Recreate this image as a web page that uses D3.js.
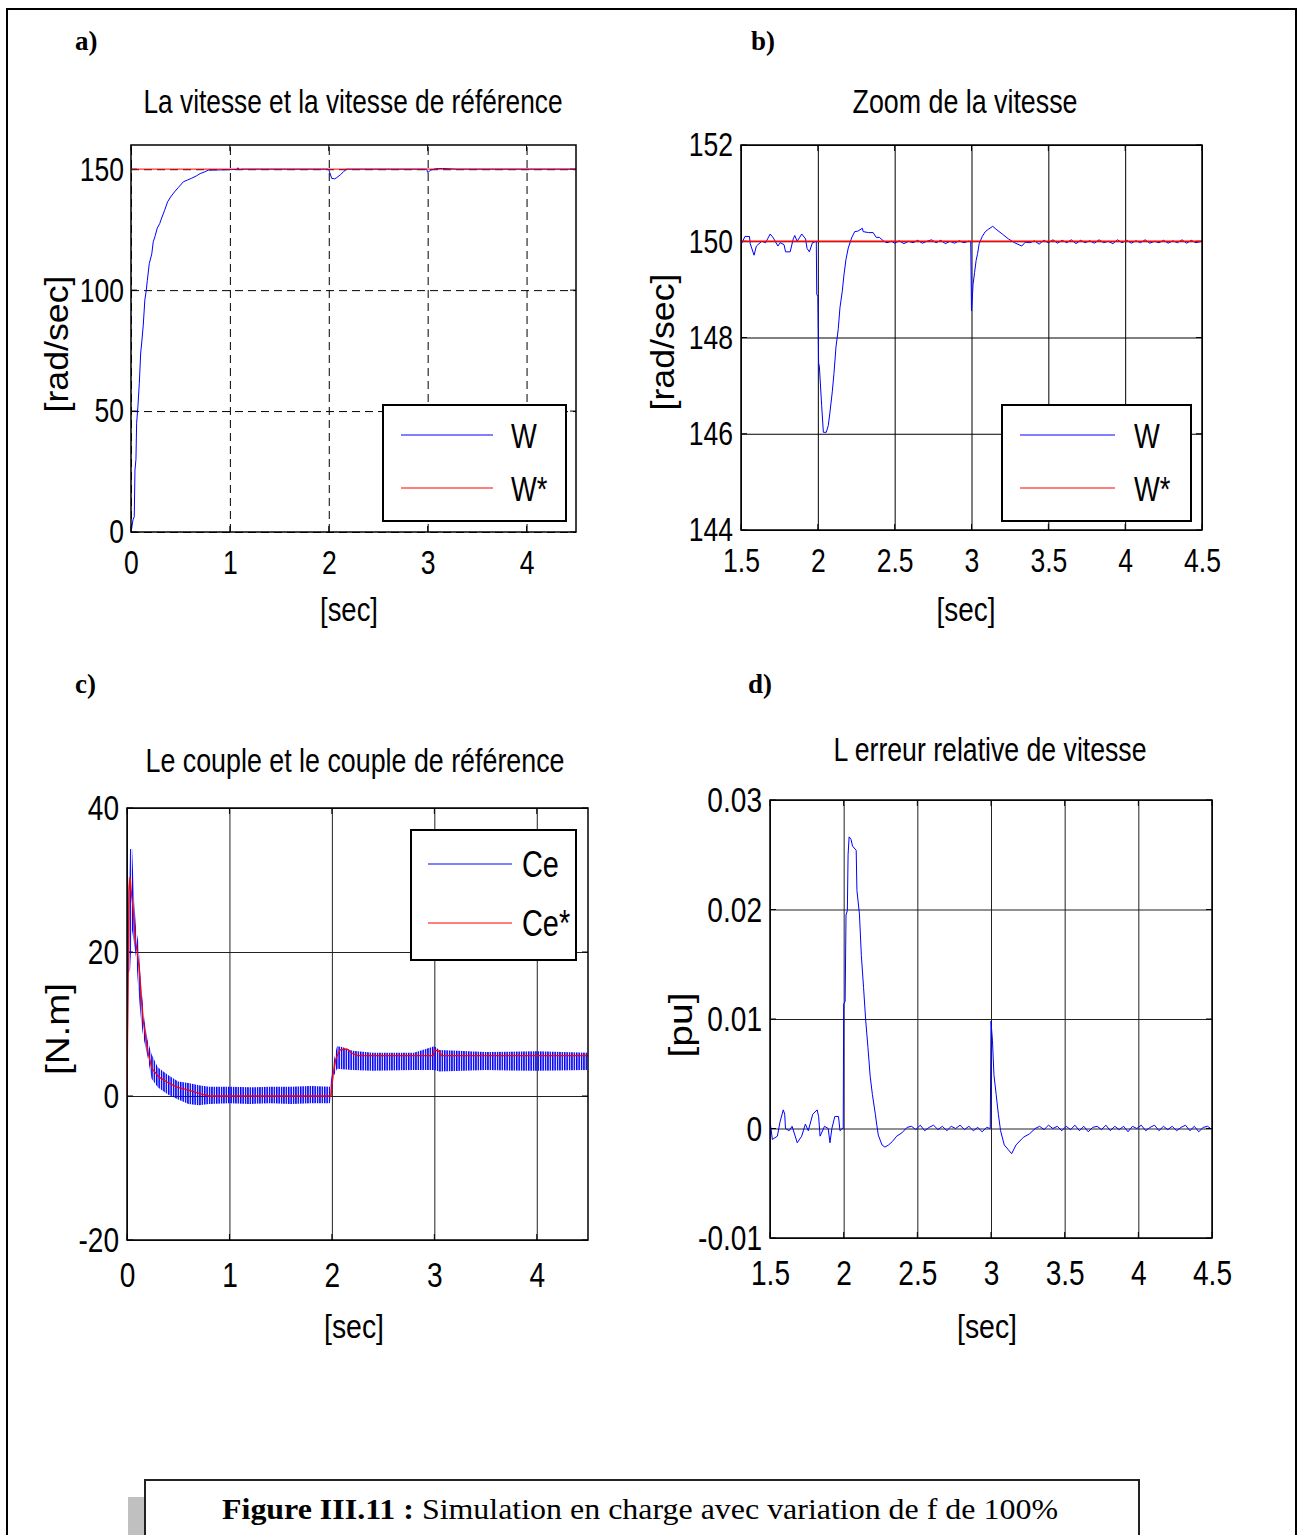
<!DOCTYPE html>
<html><head><meta charset="utf-8">
<script src="https://cdn.jsdelivr.net/npm/d3@7"></script>
<style>
body{margin:0;background:#fff;}
svg{display:block;}
</style></head><body>
<svg id="fig" width="1297" height="1535"></svg>
<script>
// ---------- DATA ----------
// Panel a: speed W (rad/s) vs time (s)
const tA = [0,0.007,0.02,0.033,0.04,0.05,0.057,0.07,0.084,0.098,0.11,0.124,0.14,0.155,0.165,0.185,0.21,0.225,0.245,0.265,0.29,0.31,0.34,0.37,0.4,0.44,0.48,0.53,0.57,0.61,0.66,0.70,0.74,0.78,0.9,1.07,1.08,1.1,1.12,1.99,2.0,2.03,2.06,2.08,2.12,2.15,2.18,2.99,3.0,3.03,3.08,3.15,3.3,4.5];
const wA = [0,1.6,5,6.3,25.6,30,45,52,61.5,74,79,85.5,96,100,104,111,115,120,122.5,125.6,127.5,129.8,133,136.5,138.5,140.6,142.5,144.8,145.5,146.2,147.2,148.2,148.8,149.6,149.7,149.9,150.6,149.8,150,150,149.8,146.2,146.0,146.5,147.8,149,150,150,148.6,149.6,150.2,150.3,150,150];
const tArefRange = [0, 4.5];
const wRefA = [150, 150];

// Panel b: zoom of speed
const tB = [1.5,1.505,1.526,1.555,1.56,1.585,1.6,1.635,1.66,1.69,1.71,1.74,1.755,1.78,1.79,1.82,1.84,1.85,1.865,1.88,1.895,1.92,1.93,1.945,1.965,1.99,1.993,2.0,2.005,2.01,2.025,2.036,2.055,2.068,2.079,2.094,2.105,2.118,2.133,2.144,2.159,2.17,2.183,2.198,2.22,2.24,2.26,2.29,2.295,2.33,2.36,2.38,2.40,2.43,
  2.45,2.48,2.5,2.53,2.56,2.59,2.62,2.65,2.68,2.71,2.74,2.77,2.8,2.83,2.86,2.89,2.92,2.95,2.98,2.995,
  3.0,3.005,3.01,3.02,3.03,3.04,3.05,3.07,3.09,3.11,3.138,3.16,3.2,3.24,3.28,3.327,3.35,
  3.38,3.41,3.44,3.47,3.5,3.53,3.56,3.59,3.62,3.65,3.68,3.71,3.74,3.77,3.8,3.83,3.86,3.89,3.92,3.95,3.98,4.01,4.04,4.07,4.1,4.13,4.16,4.19,4.22,4.25,4.28,4.31,4.34,4.37,4.4,4.43,4.46,4.5];
const wB = [149.96,149.96,150.1,150.1,149.95,149.71,149.9,150.0,149.97,150.15,150.07,149.9,149.97,149.93,149.78,149.78,150.05,150.12,150.0,150.07,150.15,150.05,149.85,149.78,149.97,150.0,148.9,148.85,147.47,147.4,146.58,146.03,146.03,146.17,146.45,146.87,147.25,147.8,148.18,148.62,148.96,149.3,149.62,149.86,150.07,150.2,150.21,150.27,150.2,150.18,150.18,150.08,150.08,150.0,
  149.97,150.0,149.96,150.01,149.95,150.0,149.97,150.02,149.96,150.0,150.03,149.97,150.02,149.95,150.0,149.96,150.01,149.97,150.0,150.0,
  148.55,148.8,149.1,149.35,149.6,149.75,149.95,150.1,150.2,150.25,150.31,150.25,150.15,150.05,149.97,149.9,149.98,
  149.97,150.01,149.94,150.02,149.97,150.03,149.96,150.02,149.97,150.03,149.95,150.02,149.97,150.01,149.96,150.03,149.97,150.0,149.95,150.03,149.97,150.02,149.96,150.01,149.97,150.03,149.96,150.0,149.97,150.02,149.96,150.01,149.97,150.03,149.96,150.02,149.97,150.0];
const wRefB = [150, 150];

// Panel c: electromagnetic torque Ce (band: upper / lower envelope) and reference Ce*
const tC  = [0,0.005,0.015,0.03,0.05,0.07,0.09,0.11,0.13,0.15,0.17,0.2,0.24,0.3,0.4,0.5,0.6,0.7,0.8,1.0,1.2,1.4,1.6,1.8,1.98,2.0,2.02,2.05,2.1,2.2,2.4,2.8,3.0,3.05,3.5,4.0,4.5];
const ceHi = [1.5,18,29,34.3,34.3,27,23,21.5,17,13.5,10.5,7.8,5.8,4.0,2.9,2.0,1.8,1.5,1.3,1.3,1.2,1.3,1.3,1.4,1.3,3.0,5.0,6.9,6.8,6.3,6.0,6.0,6.9,6.4,6.1,6.2,6.0];
const ceLo = [0.5,1.0,17,17.5,23,21,19,15,11.5,9,7.5,5.5,2.4,1.2,0.2,-0.5,-1.1,-1.3,-1.1,-1.0,-1.1,-1.0,-1.1,-1.0,-1.0,0.5,2.8,3.8,3.7,3.6,3.5,3.6,3.6,3.4,3.6,3.5,3.6];
const tCr  = [0,0.01,0.02,0.03,0.04,0.06,0.08,0.1,0.12,0.14,0.16,0.19,0.21,0.245,0.31,0.39,0.48,0.6,0.72,0.8,1.99,2.01,2.04,2.08,2.15,2.2,2.25,2.99,3.0,3.05,3.07,4.5];
const ceRef = [0,15.5,28.5,30.4,28.6,26,21.9,19.9,17.6,13.6,10.3,7.5,5.7,3.8,2.65,1.95,1.26,0.8,0.3,0,0,2.9,5.2,6.4,6.5,5.9,5.6,5.6,6.4,6.2,5.6,5.6];

// Panel d: relative speed error (pu)
const tD = [1.5,1.502,1.516,1.55,1.568,1.59,1.6,1.605,1.63,1.65,1.685,1.715,1.74,1.76,1.79,1.82,1.83,1.84,1.87,1.895,1.907,1.92,1.94,1.965,1.975,1.99,1.997,2.0,2.01,2.016,2.025,2.03,2.037,2.05,2.06,2.085,2.09,2.107,2.12,2.135,2.15,2.165,2.18,2.195,2.215,2.225,2.235,2.26,2.28,2.305,2.33,2.36,2.395,2.43,
  2.46,2.49,2.52,2.55,2.58,2.61,2.64,2.67,2.7,2.73,2.76,2.79,2.82,2.85,2.88,2.91,2.94,2.97,2.995,
  3.0,3.01,3.02,3.035,3.05,3.065,3.09,3.115,3.14,3.17,3.22,3.26,3.3,
  3.33,3.36,3.39,3.42,3.45,3.48,3.51,3.54,3.57,3.6,3.63,3.66,3.69,3.72,3.75,3.78,3.81,3.84,3.87,3.9,3.93,3.96,3.99,4.02,4.05,4.08,4.11,4.14,4.17,4.2,4.23,4.26,4.29,4.32,4.35,4.38,4.41,4.44,4.47,4.49];
const eD = [0.0005,0.0005,-0.001,-0.0007,0.0006,0.0017,0.0013,0,-0.0002,0.0002,-0.0013,-0.0007,0.0004,-0.0002,0.0013,0.0017,0.0011,-0.0007,0.0002,0,-0.0013,0,0.0011,0.0011,-0.0002,0,0,0.01135,0.0116,0.0195,0.0199,0.025,0.02663,0.0264,0.0258,0.0254,0.02174,0.0196,0.0158,0.01287,0.0098,0.00737,0.00477,0.0031,0.0013,0.0003,-0.0006,-0.0015,-0.0017,-0.0015,-0.0012,-0.0007,-0.0004,0.0001,
  0.0002,-0.0001,0.0003,-0.0002,0.0001,0.0003,-0.0001,0.0002,-0.0002,0.0002,0.0,0.0003,-0.0001,0.0002,-0.0002,0.0001,-0.0003,0.0001,0.0,
  0.0098,0.008,0.0049,0.0031,0.0013,-0.0002,-0.0015,-0.0019,-0.0023,-0.0015,-0.0008,-0.0005,0,
  0.0002,-0.0001,0.0003,0.0,0.0002,-0.0002,0.0002,-0.0001,0.0003,-0.0002,0.0002,-0.0003,0.0001,0.0002,-0.0001,0.0003,-0.0002,0.0002,-0.0001,0.0002,-0.0003,0.0002,0.0,0.0003,-0.0002,0.0001,0.0003,-0.0002,0.0002,-0.0001,0.0002,-0.0002,0.0001,0.0003,-0.0002,0.0002,-0.0003,0.0001,0.0002,0.0];

// Tick values
const xTicksA = [0,1,2,3,4];
const yTicksA = [0,50,100,150];
const xTicksB = [1.5,2,2.5,3,3.5,4,4.5];
const yTicksB = [144,146,148,150,152];
const xTicksC = [0,1,2,3,4];
const yTicksC = [-20,0,20,40];
const xTicksD = [1.5,2,2.5,3,3.5,4,4.5];
const yTicksD = [-0.01,0,0.01,0.02,0.03];

// Texts
const titles = ["La vitesse et la vitesse de référence","Zoom de la vitesse","Le couple et le couple de référence","L erreur relative de vitesse"];
const yLabels = ["[rad/sec]","[rad/sec]","[N.m]","[pu]"];
const xLabel = "[sec]";
const panelTags = ["a)","b)","c)","d)"];
const legendA = ["W","W*"], legendB = ["W","W*"], legendC = ["Ce","Ce*"];
const captionBold = "Figure III.11 :";
const captionText = " Simulation en charge avec variation de f de 100%";

// ---------- DRAWING ----------
const SANS = '"Liberation Sans Narrow","Arial Narrow","Liberation Sans",Arial,sans-serif';
const SERIF = '"Liberation Serif","Times New Roman",serif';
const BLUE = "#0000ff", RED = "#ff0000";
const SX = 0.78; // horizontal condensation of the narrow sans font
const svg = d3.select("#fig");

const defs = svg.append("defs");
const pat = defs.append("pattern").attr("id","vhatch").attr("patternUnits","userSpaceOnUse")
  .attr("width",2.4).attr("height",20);
pat.append("rect").attr("width",1.5).attr("height",20).attr("fill",BLUE);

// outer frame
svg.append("path").attr("d","M7,1535 V9 H1296 V1535").attr("fill","none").attr("stroke","#000").attr("stroke-width",2);

function condense(sel){
  sel.each(function(){
    const t = d3.select(this);
    const x = +t.attr("x")||0, y = +t.attr("y")||0;
    t.attr("x",0).attr("y",0).attr("transform",`translate(${x},${y}) scale(${SX},1)`);
  });
}

function panel(o, idx){
  const x = d3.scaleLinear().domain(o.xd).range([o.L,o.R]);
  const y = d3.scaleLinear().domain(o.yd).range([o.B,o.T]);
  const g = svg.append("g");
  const H = o.B - o.T, W = o.R - o.L;
  const gx = g.append("g").attr("transform",`translate(0,${o.B})`)
    .call(d3.axisBottom(x).tickValues(o.xt).tickSize(-H).tickPadding(o.xpad).tickFormat(d=>String(d)));
  const gy = g.append("g").attr("transform",`translate(${o.L},0)`)
    .call(d3.axisLeft(y).tickValues(o.yt).tickSize(-W).tickPadding(o.ypad).tickFormat(d=>String(d)));
  [gx,gy].forEach(a=>{
    a.select(".domain").remove();
    a.selectAll(".tick line").attr("stroke",o.grid).attr("stroke-width",1).attr("stroke-dasharray",o.dash||null);
    a.selectAll(".tick text").attr("font-family",SANS).attr("font-size",o.fs).attr("fill","#000").call(condense);
  });
  // inside tick marks (all four sides)
  const tk = g.append("g").attr("stroke","#000").attr("stroke-width",1);
  o.xt.forEach(v=>{
    tk.append("line").attr("x1",x(v)).attr("x2",x(v)).attr("y1",o.B).attr("y2",o.B-6);
    tk.append("line").attr("x1",x(v)).attr("x2",x(v)).attr("y1",o.T).attr("y2",o.T+6);
  });
  o.yt.forEach(v=>{
    tk.append("line").attr("y1",y(v)).attr("y2",y(v)).attr("x1",o.L).attr("x2",o.L+6);
    tk.append("line").attr("y1",y(v)).attr("y2",y(v)).attr("x1",o.R).attr("x2",o.R-6);
  });
  const cid = "clip"+idx;
  defs.append("clipPath").attr("id",cid).append("rect").attr("x",o.L).attr("y",o.T-2).attr("width",W).attr("height",H+4);
  const data = g.append("g").attr("clip-path",`url(#${cid})`);
  // title
  g.append("text").attr("x",o.titleX).attr("y",o.titleY).attr("text-anchor","middle")
    .attr("font-family",SANS).attr("font-size",o.tfs).attr("textLength",o.titleLen).attr("lengthAdjust","spacingAndGlyphs")
    .text(titles[idx]);
  // x label
  g.append("text").attr("x",o.xlX).attr("y",o.xlY).attr("text-anchor","middle")
    .attr("font-family",SANS).attr("font-size",o.lfs).attr("textLength",o.xlLen).attr("lengthAdjust","spacingAndGlyphs")
    .text(xLabel);
  // y label
  g.append("text").attr("transform",`translate(${o.ylX},${o.ylY}) rotate(-90)`).attr("text-anchor","middle")
    .attr("font-family",SANS).attr("font-size",o.lfs).attr("textLength",o.ylLen).attr("lengthAdjust","spacingAndGlyphs")
    .text(yLabels[idx]);
  // panel tag
  g.append("text").attr("x",o.tagX).attr("y",o.tagY).attr("font-family",SERIF).attr("font-weight","bold")
    .attr("font-size",27).text(panelTags[idx]);
  return {x,y,g,data};
}

function border(p,o){
  p.g.append("rect").attr("x",o.L).attr("y",o.T).attr("width",o.R-o.L).attr("height",o.B-o.T)
    .attr("fill","none").attr("stroke","#000").attr("stroke-width",1.5);
}

function legend(p, box, names, colors){
  const lg = p.g.append("g");
  lg.append("rect").attr("x",box.x).attr("y",box.y).attr("width",box.w).attr("height",box.h)
    .attr("fill","#fff").attr("stroke","#000").attr("stroke-width",2);
  names.forEach((n,i)=>{
    const yy = box.y + box.r[i];
    lg.append("line").attr("x1",box.x+box.l0).attr("x2",box.x+box.l1).attr("y1",yy).attr("y2",yy)
      .attr("stroke",colors[i]).attr("stroke-width",1.2);
    lg.append("text").attr("x",box.x+box.tx).attr("y",yy+13).attr("font-family",SANS).attr("font-size",box.fs).text(n).call(condense);
  });
}

const line = (p,ts,vs)=> d3.line().x((d,i)=>p.x(ts[i])).y((d,i)=>p.y(vs[i]))(vs);

// ---- Panel a ----
const oA = {xd:[0,4.5], yd:[0,160], L:131, R:576, T:145, B:532, xt:xTicksA, yt:yTicksA,
  grid:"#000", dash:"8,5", fs:34, xpad:18, ypad:7,
  titleX:353, titleY:113, titleLen:419, tfs:33, xlX:349, xlY:621, xlLen:58, lfs:33, ylX:68, ylY:344, ylLen:137,
  tagX:75, tagY:50};
const pA = panel(oA,0);
pA.data.append("path").attr("d",line(pA,tA,wA)).attr("fill","none").attr("stroke",BLUE).attr("stroke-width",1);
pA.data.append("path").attr("d",line(pA,tArefRange,wRefA)).attr("fill","none").attr("stroke",RED).attr("stroke-width",1.2).attr("stroke-opacity",0.8);
border(pA,oA);
legend(pA,{x:383,y:405,w:183,h:116,r:[30,83],l0:18,l1:110,tx:128,fs:35},legendA,[BLUE,RED]);

// ---- Panel b ----
const oB = {xd:[1.5,4.5], yd:[144,152], L:741, R:1202, T:145, B:530, xt:xTicksB, yt:yTicksB,
  grid:"#000", fs:34, xpad:18, ypad:8,
  titleX:965, titleY:113, titleLen:225, tfs:33, xlX:966, xlY:621, xlLen:59, lfs:33, ylX:674, ylY:342, ylLen:137,
  tagX:751, tagY:50};
const pB = panel(oB,1);
pB.data.append("path").attr("d",line(pB,tB,wB)).attr("fill","none").attr("stroke",BLUE).attr("stroke-width",1);
pB.data.append("path").attr("d",line(pB,[1.5,4.5],wRefB)).attr("fill","none").attr("stroke",RED).attr("stroke-width",1.5);
border(pB,oB);
legend(pB,{x:1002,y:405,w:189,h:116,r:[30,83],l0:18,l1:113,tx:132,fs:35},legendB,[BLUE,RED]);

// ---- Panel c ----
const oC = {xd:[0,4.5], yd:[-20,40], L:127, R:588, T:808, B:1240, xt:xTicksC, yt:yTicksC,
  grid:"#222", fs:36, xpad:21, ypad:8,
  titleX:355, titleY:772, titleLen:419, tfs:34, xlX:354, xlY:1338, xlLen:60, lfs:34, ylX:69, ylY:1029, ylLen:92,
  tagX:75, tagY:693};
const pC = panel(oC,2);
const band = d3.area().x((d,i)=>pC.x(tC[i])).y0((d,i)=>pC.y(ceLo[i])).y1((d,i)=>pC.y(ceHi[i]));
pC.data.append("path").attr("d",band(ceHi)).attr("fill","url(#vhatch)").attr("stroke","none");
pC.data.append("path").attr("d",line(pC,tCr,ceRef)).attr("fill","none").attr("stroke",RED).attr("stroke-width",1.3);
border(pC,oC);
legend(pC,{x:411,y:830,w:165,h:130,r:[34,93],l0:17,l1:101,tx:111,fs:37},legendC,[BLUE,RED]);

// ---- Panel d ----
const oD = {xd:[1.5,4.5], yd:[-0.01,0.03], L:770, R:1212, T:800, B:1238, xt:xTicksD, yt:yTicksD,
  grid:"#222", fs:36, xpad:21, ypad:8,
  titleX:990, titleY:761, titleLen:313, tfs:34, xlX:987, xlY:1338, xlLen:60, lfs:34, ylX:692, ylY:1025, ylLen:65,
  tagX:748, tagY:693};
const pD = panel(oD,3);
pD.data.append("path").attr("d",line(pD,tD,eD)).attr("fill","none").attr("stroke",BLUE).attr("stroke-width",1);
border(pD,oD);

// ---- caption ----
svg.append("rect").attr("x",128).attr("y",1497).attr("width",17).attr("height",40).attr("fill","#c0c0c0");
svg.append("rect").attr("x",145).attr("y",1480).attr("width",994).attr("height",70)
  .attr("fill","#fff").attr("stroke","#222").attr("stroke-width",2);
const cap = svg.append("text").attr("x",640).attr("y",1519).attr("text-anchor","middle")
  .attr("font-family",SERIF).attr("font-size",30).attr("textLength",836).attr("lengthAdjust","spacingAndGlyphs");
cap.append("tspan").attr("font-weight","bold").text(captionBold);
cap.append("tspan").text(captionText);
</script>
</body></html>
